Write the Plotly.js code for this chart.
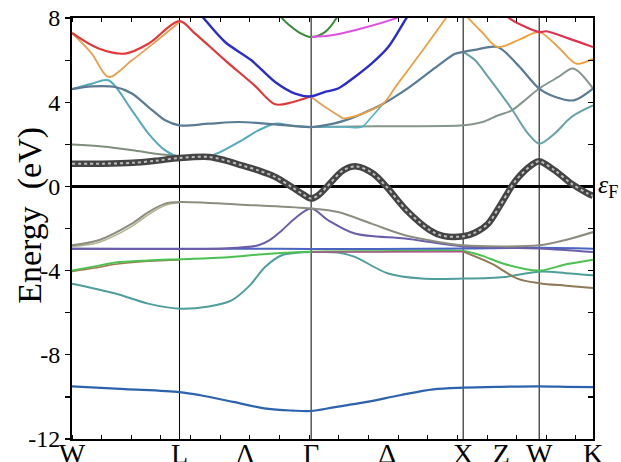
<!DOCTYPE html>
<html><head><meta charset="utf-8">
<script src="https://cdn.plot.ly/plotly-3.0.1.min.js"></script>
<style>html,body{margin:0;padding:0;background:#fff;}#plot{width:621px;height:462px;}</style>
</head><body><div id="plot"></div>
<script>
// high-symmetry k positions (path length units)
const kLabels = ['W','L','Λ','Γ','Δ','X','Z','W','K'];
const kTicks  = [0, 0.707, 1.14, 1.573, 2.073, 2.573, 2.823, 3.073, 3.427];
const kLines  = [0.707, 1.573, 2.573, 3.073];
const yTickVals = [-12,-10,-8,-6,-4,-2,0,2,4,6,8];
const yTickText = ['-12','','-8','','-4','','0','','4','','8'];

// bands: k and E (eV)
const bBottom_k = [0,0.35,0.707,0.845,1.06,1.28,1.45,1.573,1.72,1.94,2.157,2.376,2.573,2.82,3.073,3.25,3.427];
const bBottom_E = [-9.5,-9.63,-9.77,-9.92,-10.24,-10.56,-10.65,-10.67,-10.5,-10.24,-9.92,-9.64,-9.56,-9.52,-9.5,-9.52,-9.54];

const bTeal_k = [0,0.285,0.5,0.707,0.9,1.05,1.17,1.27,1.38,1.48,1.573,1.75,1.86,2.08,2.3,2.573,2.847,3.073,3.25,3.427];
const bTeal_E = [-4.62,-5.09,-5.57,-5.81,-5.7,-5.41,-4.7,-3.83,-3.27,-3.15,-3.12,-3.14,-3.35,-4.14,-4.38,-4.38,-4.3,-4.05,-4.12,-4.22];

const bGreen_k = [0,0.15,0.285,0.5,0.707,1.0,1.3,1.573,2.0,2.573,2.7,2.85,3.073,3.25,3.427];
const bGreen_E = [-4.0,-3.8,-3.62,-3.52,-3.46,-3.38,-3.2,-3.1,-3.08,-3.07,-3.3,-3.7,-4.0,-3.7,-3.48];
const bGreen2_k = [0,0.15,0.285,0.5,0.707];
const bGreen2_E = [-4.04,-3.88,-3.7,-3.56,-3.5];

const bMagLow_k = [1.573,2.0,2.573];
const bMagLow_E = [-3.12,-3.12,-3.1];
const bBrown_k = [2.573,2.76,2.93,3.073,3.25,3.427];
const bBrown_E = [-3.1,-3.67,-4.38,-4.6,-4.72,-4.83];

const bBlueFlat_k = [0,0.707,1.2,1.573,2.0,2.573,3.073,3.427];
const bBlueFlat_E = [-2.96,-2.96,-2.96,-2.97,-2.97,-2.95,-2.92,-2.96];

const bPurple_k = [0,0.35,0.707,1.0,1.226,1.3,1.38,1.47,1.573,1.686,1.86,2.19,2.41,2.573,3.073,3.427];
const bPurple_E = [-2.96,-2.97,-2.97,-2.95,-2.8,-2.55,-2.09,-1.5,-1.05,-1.61,-2.24,-2.48,-2.7,-2.85,-2.95,-3.12];

const bGray_k = [0,0.175,0.394,0.503,0.613,0.707,1.2,1.573,1.75,1.97,2.19,2.41,2.573,3.073,3.24,3.427];
const bGray_E = [-2.8,-2.56,-1.77,-1.22,-0.82,-0.74,-0.9,-1.05,-1.22,-1.77,-2.32,-2.64,-2.8,-2.8,-2.56,-2.17];
const bOlive_k = [0,0.175,0.394,0.503,0.613,0.707];
const bOlive_E = [-2.85,-2.66,-1.9,-1.34,-0.9,-0.78];

const bFermi_k = [0,0.2,0.4,0.55,0.707,0.9,1.007,1.117,1.226,1.336,1.446,1.52,1.573,1.62,1.675,1.785,1.873,1.98,2.07,2.2,2.354,2.44,2.573,2.65,2.737,2.81,2.92,3.03,3.073,3.175,3.285,3.394,3.427];
const bFermi_E = [1.08,1.08,1.12,1.22,1.35,1.4,1.24,1.0,0.76,0.45,-0.03,-0.38,-0.58,-0.42,-0.03,0.77,0.95,0.61,-0.03,-1.13,-2.08,-2.35,-2.37,-2.2,-1.77,-0.98,0.29,1.05,1.19,0.76,0.13,-0.34,-0.45];

const bGrayGreen_k = [0,0.2,0.4,0.55,0.707];
const bGrayGreen_E = [1.99,1.9,1.72,1.55,1.45];

const bCyan_k = [0,0.13,0.24,0.394,0.503,0.613,0.707,0.9,1.117,1.226,1.336,1.45,1.573];
const bCyan_E = [4.62,4.88,5.04,3.61,2.51,1.71,1.4,1.42,2.19,2.66,2.98,2.88,2.82];
const bCyan2_k = [1.573,1.8,1.905,1.97,2.047];
const bCyan2_E = [2.82,2.82,2.82,3.3,3.93];

const bSlate_k = [0,0.13,0.285,0.394,0.503,0.613,0.707,0.9,1.1,1.336,1.573,1.72,1.83,1.938,2.047,2.22,2.41,2.52,2.573,2.66,2.8,2.935,3.073,3.18,3.3,3.427];
const bSlate_E = [4.62,4.75,4.72,4.41,3.77,3.14,2.9,2.98,3.06,2.95,2.82,2.98,3.22,3.55,3.93,4.72,5.75,6.3,6.39,6.5,6.62,5.75,4.65,4.25,4.09,4.65];

const bFlat_k = [1.573,2.0,2.573,2.7,2.8,2.89,2.98,3.073,3.2,3.296,3.427];
const bFlat_E = [2.82,2.86,2.9,3.06,3.37,3.6,4.1,4.65,5.2,5.6,4.65];

const bP_k = [2.573,2.65,2.737,2.89,3.0,3.073,3.175,3.285,3.427];
const bP_E = [6.39,6.0,5.2,3.7,2.51,2.03,2.51,3.3,3.85];

const bOrange1_k = [0,0.13,0.24,0.394,0.547,0.707];
const bOrange1_E = [7.29,6.31,5.2,5.99,6.86,7.81];
const bOrange2_k = [1.573,1.68,1.785];
const bOrange2_E = [4.25,3.7,3.22];
const bOrange3_k = [1.785,1.87,1.938,2.047,2.135,2.30,2.46,2.5];
const bOrange3_E = [3.22,3.35,3.53,3.93,4.8,6.4,8.0,8.4];
const bOrange4_k = [2.56,2.6,2.70,2.80,2.95,3.073,3.2,3.318,3.427];
const bOrange4_E = [8.4,8.05,7.3,6.62,7.0,7.33,6.6,5.83,6.07];

const bRed1_k = [0,0.175,0.35,0.503,0.707,0.81,1.007,1.2,1.336,1.45,1.573];
const bRed1_E = [7.29,6.55,6.31,6.78,7.85,7.26,5.99,4.8,3.9,4.0,4.28];
const bRed2_k = [2.85,2.88,3.073,3.12,3.27,3.427];
const bRed2_E = [8.2,7.97,7.33,7.37,7.02,6.62];

const bBlue_k = [0.83,0.865,1.007,1.18,1.336,1.467,1.573,1.664,1.75,1.86,1.97,2.08,2.2,2.23];
const bBlue_E = [8.3,8.0,6.86,5.99,4.96,4.41,4.28,4.49,4.65,5.2,5.83,6.62,8.0,8.3];

const bGreenUp_k = [1.36,1.38,1.49,1.573,1.664,1.74,1.76];
const bGreenUp_E = [8.3,8.0,7.33,7.1,7.33,8.0,8.3];

const bMag_k = [1.573,1.708,1.86,2.124,2.2];
const bMag_E = [7.1,7.18,7.42,7.97,8.2];

function band(k, E, color, width, dash) {
  return {
    type: 'scatter', mode: 'lines', x: k, y: E,
    line: {color: color, width: width || 2, shape: 'spline', smoothing: 0.9, dash: dash || 'solid'},
    hoverinfo: 'skip', showlegend: false
  };
}

const traces = [
  band(bBottom_k, bBottom_E, '#2d62ad', 2.2),
  band(bTeal_k, bTeal_E, '#4f9e9c', 2),
  band(bGreen2_k, bGreen2_E, '#a07a50', 1.5),
  band(bGreen_k, bGreen_E, '#4cc050', 2),
  band(bMagLow_k, bMagLow_E, '#b0508a', 1.5),
  band(bBrown_k, bBrown_E, '#8f7a58', 2),
  band(bBlueFlat_k, bBlueFlat_E, '#4a64c0', 2),
  band(bPurple_k, bPurple_E, '#6b5ea8', 2),
  band(bOlive_k, bOlive_E, '#b3b38f', 1.6),
  band(bGray_k, bGray_E, '#8c8c80', 2),
  band(bGrayGreen_k, bGrayGreen_E, '#7f8f7c', 2),
  band(bFlat_k, bFlat_E, '#86968c', 2),
  band(bP_k, bP_E, '#68a0a6', 2),
  band(bCyan_k, bCyan_E, '#55a9bb', 2),
  band(bCyan2_k, bCyan2_E, '#55b0c4', 1.6),
  band(bSlate_k, bSlate_E, '#5b7b92', 2.2),
  band(bOrange1_k, bOrange1_E, '#e8a050', 1.8),
  band(bOrange2_k, bOrange2_E, '#e0a060', 1.8),
  band(bOrange3_k, bOrange3_E, '#eda040', 1.8),
  band(bOrange4_k, bOrange4_E, '#eda040', 1.8),
  band(bRed1_k, bRed1_E, '#e03838', 2.2),
  band(bRed2_k, bRed2_E, '#e03050', 2.2),
  band(bBlue_k, bBlue_E, '#2c2cc8', 2.4),
  band(bGreenUp_k, bGreenUp_E, '#3a8a3a', 2),
  band(bMag_k, bMag_E, '#e050e0', 2),
  band(bFermi_k, bFermi_E, '#444444', 6.5),
  band(bFermi_k, bFermi_E, '#bdbdbd', 2, 'dot')
];

const shapes = kLines.map(k => ({
  type: 'line', xref: 'x', yref: 'paper', x0: k, x1: k, y0: 0, y1: 1,
  line: {color: '#000', width: 1}, layer: 'below'
}));

const serif = 'Liberation Serif, Times New Roman, serif';

const layout = {
  width: 621, height: 462,
  margin: {l: 72, r: 28, t: 18, b: 23},
  paper_bgcolor: '#fff', plot_bgcolor: '#fff',
  font: {family: serif, color: '#000'},
  xaxis: {
    range: [0, 3.427], tickmode: 'array', tickvals: kTicks, ticktext: kLabels,
    ticks: '', showgrid: false, zeroline: false, ticklabelstandoff: -12,
    showline: true, linecolor: '#000', linewidth: 2, mirror: 'ticks',
    tickfont: {family: serif, size: 28, color: '#000'},
    minor: {tickmode: 'linear', tick0: 0, dtick: 0.195, ticks: 'inside', ticklen: 4, tickcolor: '#000', tickwidth: 1, showgrid: false}
  },
  yaxis: {
    range: [-12, 8], tickmode: 'array', tickvals: yTickVals, ticktext: yTickText,
    ticks: 'outside', ticklen: 5, tickwidth: 1.2, tickcolor: '#000',
    showgrid: false, zeroline: true, zerolinecolor: '#000', zerolinewidth: 2.5,
    showline: true, linecolor: '#000', linewidth: 2,
    tickfont: {family: serif, size: 24, color: '#000'}
  },
  yaxis2: {
    overlaying: 'y', side: 'right', range: [-12, 8], tickmode: 'array', tickvals: yTickVals,
    ticks: 'inside', ticklen: 5, tickwidth: 1.2, tickcolor: '#000',
    showticklabels: false, showgrid: false, zeroline: false,
    showline: true, linecolor: '#000', linewidth: 2
  },
  shapes: shapes,
  annotations: [
    {text: 'Energy  (eV)', xref: 'paper', yref: 'paper', x: -0.081, y: 0.532,
     xanchor: 'center', yanchor: 'middle', textangle: -90, showarrow: false,
     font: {family: serif, size: 34, color: '#000'}},
    {text: '<i>ε</i><sub>F</sub>', xref: 'paper', yref: 'y', x: 1.005, y: 0,
     xanchor: 'left', yanchor: 'middle', showarrow: false,
     font: {family: serif, size: 26, color: '#000'}}
  ]
};

// trace to activate the right-hand axis
traces.push({type: 'scatter', mode: 'lines', x: [0], y: [0], yaxis: 'y2', line: {width: 0}, hoverinfo: 'skip', showlegend: false});

Plotly.newPlot('plot', traces, layout, {staticPlot: true, displayModeBar: false});
</script>
</body></html>
